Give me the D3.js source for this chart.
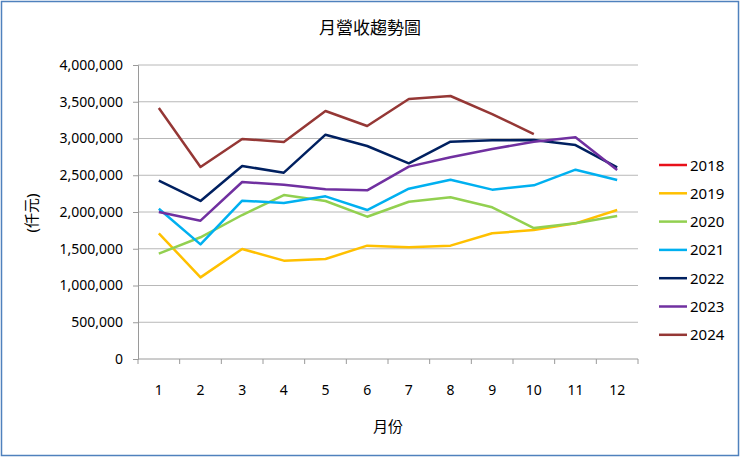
<!DOCTYPE html>
<html>
<head>
<meta charset="utf-8">
<script src="https://cdn.jsdelivr.net/npm/d3@7"></script>
<style>
  body { margin: 0; background: #fff; }
  #graf { width: 740px; height: 457px; }
  text { font-family: "Noto Sans", "Noto Sans CJK TC", sans-serif; fill: #000; }
</style>
</head>
<body>
<div id="graf"></div>
<script>
// datos
meses = [1, 2, 3, 4, 5, 6, 7, 8, 9, 10, 11, 12]
anios = ['2018', '2019', '2020', '2021', '2022', '2023', '2024']
colores = ['#e8101a', '#ffc000', '#92d050', '#00b0f0', '#002060', '#7030a0', '#953735']
ticksY = [0, 500000, 1000000, 1500000, 2000000, 2500000, 3000000, 3500000, 4000000]

v2018 = []
v2019 = [1710000, 1111000, 1497000, 1338000, 1361000, 1542000, 1519000, 1542000, 1710000, 1755000, 1846000, 2027000]
v2020 = [1433000, 1656000, 1959000, 2231000, 2150000, 1936000, 2140000, 2200000, 2064000, 1782000, 1846000, 1946000]
v2021 = [2045000, 1560000, 2154000, 2122000, 2213000, 2027000, 2317000, 2440000, 2304000, 2363000, 2576000, 2435000]
v2022 = [2426000, 2150000, 2626000, 2535000, 3052000, 2898000, 2662000, 2957000, 2975000, 2980000, 2911000, 2608000]
v2023 = [2000000, 1882000, 2408000, 2372000, 2309000, 2295000, 2617000, 2744000, 2857000, 2957000, 3016000, 2571000]
v2024 = [3415000, 2612000, 2993000, 2952000, 3374000, 3170000, 3537000, 3578000, 3333000, 3061000]

series = [v2018, v2019, v2020, v2021, v2022, v2023, v2024]

svg = d3.select('#graf').append('svg')
  .attr('width', 740).attr('height', 457)

// marco
svg.append('rect')
  .attr('x', 1.5).attr('y', 1.5).attr('width', 737).attr('height', 454)
  .attr('fill', '#fff').attr('stroke', '#4f81bd').attr('stroke-width', 1.5)

margins = { top: 65, left: 138, right: 102, bottom: 98 }
ancho = 740 - margins.left - margins.right
alto = 457 - margins.top - margins.bottom

g = svg.append('g').attr('transform', `translate(${margins.left}, ${margins.top})`)

x = d3.scaleBand().domain(meses).range([0, ancho])
y = d3.scaleLinear().domain([0, 4000000]).range([alto, 0])

// rejilla
g.selectAll('.grid').data(ticksY.slice(1)).enter().append('line')
  .attr('x1', 0).attr('x2', ancho)
  .attr('y1', d => y(d)).attr('y2', d => y(d))
  .attr('stroke', '#b8b8b8').attr('stroke-width', 1)

// eje Y
yAxis = g.append('g')
  .call(d3.axisLeft(y).tickValues(ticksY).tickSize(5).tickPadding(10).tickFormat(d3.format(',')))
yAxis.select('.domain').attr('stroke', '#9a9a9a')
yAxis.selectAll('.tick line').attr('stroke', '#9a9a9a')
yAxis.selectAll('text').attr('font-size', '14px').attr('font-family', '"Noto Sans", sans-serif').attr('fill', '#000')

// eje X
xAxisG = g.append('g').attr('transform', `translate(0, ${alto})`)
xAxisG.append('line').attr('x1', 0).attr('x2', ancho).attr('stroke', '#9a9a9a')
xAxisG.selectAll('.tk').data(d3.range(meses.length + 1)).enter().append('line')
  .attr('x1', d => d * x.bandwidth()).attr('x2', d => d * x.bandwidth())
  .attr('y1', 0).attr('y2', 5).attr('stroke', '#9a9a9a')
xAxisG.selectAll('.lbl').data(meses).enter().append('text')
  .attr('x', d => x(d) + x.bandwidth() / 2).attr('y', 36)
  .attr('text-anchor', 'middle').attr('font-size', '14px')
  .text(d => d)

// líneas
linea = d3.line()
  .x((d, i) => x(meses[i]) + x.bandwidth() / 2)
  .y(d => y(d))

g.selectAll('.serie').data(series).enter().append('path')
  .attr('d', d => d.length ? linea(d) : null)
  .attr('fill', 'none')
  .attr('stroke', (d, i) => colores[i])
  .attr('stroke-width', 2.5)
  .attr('stroke-linejoin', 'round')

// títulos
svg.append('text').attr('x', 370).attr('y', 34).attr('text-anchor', 'middle')
  .attr('font-size', '17px').attr('font-family', '"Noto Sans CJK TC", sans-serif')
  .text('月營收趨勢圖')
svg.append('text').attr('x', 388).attr('y', 432).attr('text-anchor', 'middle')
  .attr('font-size', '15px').attr('font-family', '"Noto Sans CJK TC", sans-serif')
  .text('月份')
svg.append('text').attr('transform', 'translate(37, 213) rotate(-90)').attr('text-anchor', 'middle')
  .attr('font-size', '15px').attr('font-family', '"Noto Sans CJK TC", sans-serif')
  .text('(仟元)')

// leyenda
leyenda = svg.selectAll('.ley').data(anios).enter().append('g')
  .attr('transform', (d, i) => `translate(659, ${165 + i * 28.3})`)
leyenda.append('line').attr('x1', 0).attr('x2', 28)
  .attr('stroke', (d, i) => colores[i]).attr('stroke-width', 2.5)
leyenda.append('text').attr('x', 31).attr('y', 5.5).attr('font-size', '15px').text(d => d)
</script>
</body>
</html>
